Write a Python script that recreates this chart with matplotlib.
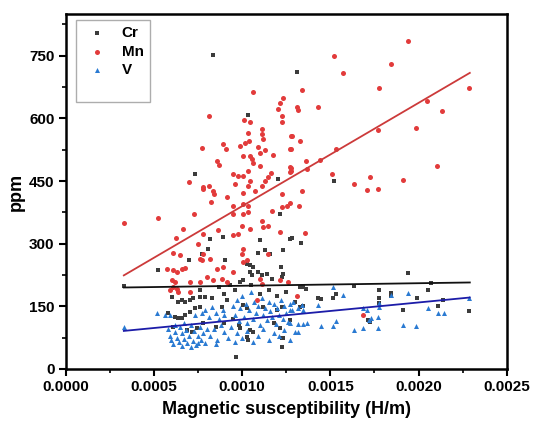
import numpy as np
import matplotlib
matplotlib.use("Agg")
import matplotlib.pyplot as plt
from matplotlib.ticker import MultipleLocator, FormatStrFormatter

plt.rcParams['font.family'] = ['Liberation Sans', 'DejaVu Sans']
plt.rcParams['font.weight'] = 'bold'

# (susceptibility H/m, ppm)
cr_pts = np.array([
    (0.000833, 751), (0.001035, 607), (0.001202, 456), (0.001313, 711), (0.001521, 451), (0.000733, 467),
    (0.000525, 236), (0.000699, 262), (0.000771, 276), (0.00033, 198), (0.000601, 172), (0.000639, 160),
    (0.000658, 165), (0.000676, 160), (0.000705, 165), (0.000724, 169), (0.000582, 133), (0.00062, 125),
    (0.000639, 121), (0.000658, 123), (0.000676, 129), (0.000705, 137), (0.00061, 101), (0.000686, 93),
    (0.000714, 89), (0.000743, 97), (0.000733, 145), (0.000761, 149), (0.000761, 172), (0.000761, 188),
    (0.001215, 372), (0.000894, 316), (0.000818, 312), (0.001102, 309), (0.001272, 312), (0.001092, 277),
    (0.00113, 284), (0.001159, 276), (0.001234, 284), (0.000808, 288), (0.000903, 262),
    (0.001026, 252), (0.001045, 248), (0.001064, 244), (0.001045, 232), (0.001054, 224), (0.001007, 212),
    (0.000988, 208), (0.00096, 188), (0.001092, 232), (0.001111, 224), (0.00114, 228), (0.001168, 216),
    (0.001225, 220), (0.001234, 228), (0.00079, 172), (0.000828, 169), (0.000884, 149),
    (0.000913, 165), (0.001007, 153), (0.001026, 145), (0.00112, 149), (0.001196, 141), (0.001225, 149),
    (0.000988, 97), (0.001045, 93), (0.001064, 89), (0.001215, 97), (0.001225, 73), (0.001225, 53),
    (0.001026, 77), (0.001035, 69), (0.000968, 29), (0.001272, 117),
    (0.001281, 313), (0.001332, 301), (0.00122, 244), (0.001328, 195), (0.001347, 195), (0.001362, 192),
    (0.001636, 198), (0.001938, 230), (0.00207, 206), (0.002052, 188), (0.001777, 188), (0.001777, 171),
    (0.001777, 157), (0.001845, 182), (0.001845, 175), (0.00199, 169), (0.001532, 179), (0.001513, 169),
    (0.001432, 170), (0.001447, 167), (0.001914, 142), (0.002109, 150), (0.002286, 138), (0.001716, 117),
    (0.001726, 113), (0.002137, 165), (0.001328, 149), (0.001347, 150),
    (0.00095, 120), (0.00098, 105), (0.0011, 180), (0.00115, 190), (0.0012, 175), (0.00125, 185),
    (0.0013, 160), (0.00087, 195), (0.0009, 180), (0.00093, 200), (0.00105, 200), (0.00118, 110),
    (0.00123, 75), (0.0009, 110), (0.00085, 100), (0.00078, 110),
])

mn_pts = np.array([
    (0.00033, 350), (0.000525, 362), (0.000727, 371), (0.000667, 336), (0.000625, 314), (0.000607, 278),
    (0.000648, 272), (0.000573, 240), (0.000607, 236), (0.000629, 232), (0.000658, 239), (0.000676, 242),
    (0.000601, 212), (0.00062, 208), (0.00061, 196), (0.000629, 192), (0.000591, 188), (0.000639, 184),
    (0.000705, 208), (0.000761, 208), (0.000705, 184), (0.000761, 264), (0.000752, 300),
    (0.000771, 530), (0.000699, 447), (0.000776, 431),
    (0.001064, 664), (0.001234, 648), (0.001215, 638), (0.001205, 622), (0.001225, 606), (0.001225, 591),
    (0.000814, 606), (0.001013, 596), (0.001045, 591), (0.001032, 566), (0.001111, 575), (0.001111, 562),
    (0.00112, 550), (0.001276, 558), (0.00089, 538), (0.000909, 526), (0.000988, 534), (0.001016, 542),
    (0.001041, 545), (0.001003, 510), (0.001092, 532), (0.001102, 518), (0.00113, 524), (0.001045, 510),
    (0.001054, 503), (0.001064, 494), (0.001173, 512), (0.001272, 526), (0.000856, 498), (0.000871, 488),
    (0.001102, 485), (0.00095, 467), (0.000978, 463), (0.001007, 461), (0.001035, 473), (0.001162, 469),
    (0.001148, 459), (0.00113, 449), (0.001272, 484), (0.001272, 472), (0.00096, 444), (0.001045, 451),
    (0.001035, 437), (0.001111, 437), (0.00078, 435), (0.000814, 439), (0.000833, 425), (0.000841, 419),
    (0.001007, 421), (0.001073, 425), (0.000913, 411), (0.000824, 399), (0.001225, 419), (0.001272, 398),
    (0.00095, 389), (0.001007, 395), (0.001035, 391),
    (0.001938, 786), (0.001521, 749), (0.001844, 730), (0.001574, 708), (0.001342, 667), (0.001774, 672),
    (0.002286, 673), (0.001311, 627), (0.001318, 619), (0.001428, 627), (0.00205, 642), (0.002135, 618),
    (0.001986, 578), (0.001772, 572), (0.001281, 558), (0.001328, 546), (0.001277, 526), (0.001532, 527),
    (0.001362, 498), (0.001441, 500), (0.002103, 485), (0.001277, 482), (0.001277, 475), (0.00137, 480),
    (0.001511, 467), (0.001725, 459), (0.001636, 444), (0.001913, 453), (0.001709, 429), (0.001772, 432),
    (0.001338, 426),
    (0.00095, 371), (0.001007, 371), (0.001035, 375), (0.001168, 379), (0.00078, 324), (0.000865, 332),
    (0.00095, 320), (0.000978, 324), (0.001045, 336), (0.000998, 343), (0.001111, 355), (0.00112, 339),
    (0.001148, 343), (0.001215, 327), (0.001007, 288), (0.000998, 276), (0.000771, 260), (0.000818, 264),
    (0.00078, 276), (0.000856, 240), (0.000894, 244), (0.00095, 232), (0.001007, 256), (0.001026, 260),
    (0.000884, 216), (0.000913, 208), (0.000837, 212), (0.001102, 216), (0.001111, 204), (0.001215, 212),
    (0.001262, 208), (0.0008, 220), (0.001083, 165),
    (0.001225, 387), (0.001253, 389), (0.00132, 389), (0.001357, 326), (0.001148, 276), (0.001309, 175),
    (0.001684, 129),
])

v_pts = np.array([
    (0.00033, 101), (0.000516, 133), (0.000563, 130), (0.000591, 129),
    (0.00058, 95), (0.00059, 80), (0.0006, 70), (0.00061, 60), (0.00062, 88), (0.00063, 75), (0.00064, 65),
    (0.00065, 100), (0.00066, 85), (0.00066, 55), (0.00067, 72), (0.00068, 92), (0.00069, 62), (0.0007, 80),
    (0.00071, 105), (0.00072, 68), (0.00073, 90), (0.00074, 58), (0.00075, 78), (0.00076, 100), (0.00077, 70),
    (0.00078, 85), (0.00079, 62), (0.0008, 95), (0.00062, 105), (0.00067, 110), (0.00071, 52), (0.00075, 62),
    (0.000733, 129), (0.000771, 133), (0.00079, 140), (0.00081, 125), (0.00083, 148), (0.00085, 135),
    (0.00087, 120), (0.00089, 142), (0.0009, 128),
    (0.00082, 80), (0.00084, 95), (0.00086, 70), (0.00088, 105), (0.0009, 88), (0.00092, 75), (0.00094, 100),
    (0.00096, 65), (0.00085, 60),
    (0.00095, 150), (0.00096, 130), (0.00097, 165), (0.00098, 115), (0.00099, 145), (0.001, 175), (0.00101, 125),
    (0.00102, 155), (0.00103, 110), (0.00104, 140), (0.00105, 185), (0.00106, 120), (0.00107, 160),
    (0.00108, 135), (0.00109, 150), (0.0011, 105), (0.00111, 170), (0.00112, 130), (0.00113, 145),
    (0.00114, 118), (0.00115, 160), (0.00116, 138), (0.00117, 125), (0.00118, 155), (0.00119, 108),
    (0.0012, 145), (0.00121, 130), (0.00122, 165), (0.00123, 120), (0.00124, 150), (0.00125, 135),
    (0.00126, 112), (0.00127, 155), (0.00128, 140),
    (0.00097, 85), (0.001, 75), (0.00103, 90), (0.00106, 65), (0.00109, 80), (0.00112, 95), (0.00115, 70),
    (0.00118, 85), (0.00121, 78), (0.00124, 92), (0.00127, 70), (0.0013, 88),
    (0.001517, 196), (0.001574, 178), (0.001432, 153), (0.001687, 146), (0.001706, 141), (0.001777, 157),
    (0.001777, 149), (0.001845, 177), (0.001938, 182), (0.002052, 147), (0.002109, 134), (0.002141, 134),
    (0.002286, 171), (0.001272, 110), (0.001319, 107), (0.001347, 107), (0.001366, 110), (0.001319, 89),
    (0.001446, 103), (0.001513, 103), (0.001532, 115), (0.001636, 93), (0.001684, 97), (0.001772, 125),
    (0.001772, 97), (0.00172, 117), (0.00173, 121), (0.001914, 105), (0.001986, 103),
    (0.001338, 153), (0.001319, 145), (0.001347, 141), (0.001291, 161), (0.001272, 141),
])

# fitted lines (end points)
fit_x = [0.00033, 0.00229]
cr_fit = [195, 207]
mn_fit = [224, 709]
v_fit = [91, 171]

fig = plt.figure(figsize=(5.33, 4.25), dpi=100)
ax = fig.add_axes([0.123, 0.132, 0.828, 0.835])

ax.scatter(cr_pts[:, 0], cr_pts[:, 1], marker='s', s=10, color='#3c3c3c', linewidths=0, label='Cr')
ax.scatter(mn_pts[:, 0], mn_pts[:, 1], marker='o', s=13, color='#e23b3b', linewidths=0, label='Mn')
ax.scatter(v_pts[:, 0], v_pts[:, 1], marker='^', s=13, color='#2a7ad2', linewidths=0, label='V')
ax.scatter([], [], s=0, label=' ')

ax.plot(fit_x, mn_fit, color='#cc3a3a', lw=1.3)
ax.plot(fit_x, cr_fit, color='#111111', lw=1.3)
ax.plot(fit_x, v_fit, color='#1c1ca8', lw=1.3)

ax.set_xlim(0, 0.0025)
ax.set_ylim(0, 850)
ax.xaxis.set_major_locator(MultipleLocator(0.0005))
ax.xaxis.set_minor_locator(MultipleLocator(0.00025))
ax.xaxis.set_major_formatter(FormatStrFormatter('%.4f'))
ax.yaxis.set_major_locator(MultipleLocator(150))
ax.yaxis.set_minor_locator(MultipleLocator(75))
ax.tick_params(which='major', direction='out', length=5, width=1.5, labelsize=11, pad=3)
ax.tick_params(which='minor', direction='out', length=3, width=1.2)
for sp in ax.spines.values():
    sp.set_linewidth(1.8)

ax.set_xlabel('Magnetic susceptibility (H/m)', fontsize=13, fontweight='bold', labelpad=5)
ax.set_ylabel('ppm', fontsize=13, fontweight='bold', labelpad=3)

leg = ax.legend(loc='upper left', bbox_to_anchor=(0.023, 0.983), borderaxespad=0,
                fontsize=11, frameon=True, fancybox=False, labelspacing=0.3,
                handletextpad=0.6, markerscale=1.0, borderpad=0.4)
leg.get_frame().set_edgecolor('#999999')
leg.get_frame().set_linewidth(1.0)

fig.savefig('out.png', dpi=100)
